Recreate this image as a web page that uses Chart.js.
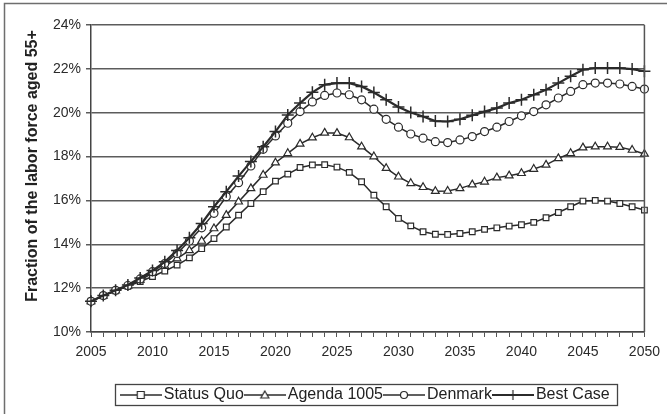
<!DOCTYPE html>
<html>
<head>
<meta charset="utf-8">
<script src="https://cdn.jsdelivr.net/npm/chart.js@4"></script>
<style>
  html, body { margin: 0; padding: 0; background: #ffffff; }
  #wrap { width: 667px; height: 414px; }
</style>
</head>
<body>
<div id="wrap"><canvas id="c" width="667" height="414"></canvas></div>
<script>
const years = [2005,2006,2007,2008,2009,2010,2011,2012,2013,2014,2015,2016,2017,2018,2019,2020,2021,2022,2023,2024,2025,2026,2027,2028,2029,2030,2031,2032,2033,2034,2035,2036,2037,2038,2039,2040,2041,2042,2043,2044,2045,2046,2047,2048,2049,2050];

const statusQuo = [11.40,11.65,11.88,12.08,12.30,12.53,12.78,13.05,13.38,13.80,14.26,14.79,15.33,15.86,16.40,16.88,17.20,17.50,17.62,17.63,17.52,17.28,16.85,16.24,15.71,15.18,14.84,14.57,14.46,14.45,14.49,14.57,14.68,14.75,14.83,14.89,15.00,15.21,15.45,15.71,15.97,16.00,15.97,15.86,15.71,15.56];

const agenda1005 = [11.40,11.65,11.88,12.10,12.38,12.68,13.00,13.35,13.72,14.15,14.72,15.33,15.94,16.55,17.16,17.72,18.15,18.58,18.86,19.08,19.07,18.87,18.45,18.00,17.47,17.08,16.78,16.60,16.42,16.43,16.55,16.72,16.85,17.04,17.13,17.24,17.43,17.62,17.92,18.15,18.41,18.45,18.45,18.43,18.30,18.12];

const denmark = [11.40,11.66,11.90,12.12,12.42,12.75,13.12,13.58,14.15,14.75,15.41,16.17,16.81,17.57,18.33,18.94,19.52,20.05,20.49,20.79,20.90,20.82,20.59,20.16,19.70,19.34,19.03,18.84,18.68,18.64,18.76,18.91,19.14,19.34,19.60,19.86,20.05,20.36,20.67,20.97,21.28,21.35,21.35,21.31,21.20,21.08];

const bestCase = [11.40,11.66,11.90,12.14,12.46,12.80,13.20,13.72,14.30,14.95,15.71,16.40,17.11,17.77,18.45,19.14,19.90,20.44,20.93,21.28,21.35,21.35,21.20,20.92,20.59,20.26,20.01,19.83,19.62,19.60,19.70,19.88,20.05,20.21,20.44,20.59,20.82,21.05,21.35,21.66,21.96,22.04,22.04,22.04,21.99,21.89];

const seriesNames = ['Status Quo', 'Agenda 1005', 'Denmark', 'Best Case'];
const yTicks = [10, 12, 14, 16, 18, 20, 22, 24];
const yTitle = 'Fraction of the labor force aged 55+';

const INK = '#2b2b2b';
const FONT = "'Liberation Sans', Arial, sans-serif";

function drawMarker(ctx, style, x, y) {
  ctx.beginPath();
  if (style === 'rect') {
    ctx.rect(x - 3.5, y - 3.5, 7, 7);
    ctx.fill(); ctx.stroke();
  } else if (style === 'triangle') {
    ctx.moveTo(x, y - 4); ctx.lineTo(x + 4, y + 3); ctx.lineTo(x - 4, y + 3); ctx.closePath();
    ctx.fill(); ctx.stroke();
  } else if (style === 'circle') {
    ctx.arc(x, y, 3.5, 0, Math.PI * 2);
    ctx.fill(); ctx.stroke();
  } else {
    ctx.moveTo(x - 5, y); ctx.lineTo(x + 5, y);
    ctx.moveTo(x, y - 5); ctx.lineTo(x, y + 5);
    ctx.stroke();
  }
}

function legendIcon(style, lw) {
  const c = document.createElement('canvas');
  c.width = 42; c.height = 14;
  const ctx = c.getContext('2d');
  ctx.strokeStyle = INK; ctx.fillStyle = '#fff'; ctx.lineWidth = lw;
  ctx.beginPath(); ctx.moveTo(0, 7); ctx.lineTo(42, 7); ctx.stroke();
  ctx.lineWidth = 1.2;
  drawMarker(ctx, style, 21, 7);
  return c;
}

const styles = ['rect', 'triangle', 'circle', 'cross'];
const lineWidths = [1.5, 1.5, 1.5, 2.2];
const values = [statusQuo, agenda1005, denmark, bestCase];
const radii = [4, 4.5, 4, 6];
const icons = styles.map((s, i) => legendIcon(s, lineWidths[i]));

const datasets = seriesNames.map((name, i) => ({
  label: name,
  data: values[i],
  borderColor: INK,
  borderWidth: lineWidths[i],
  pointStyle: styles[i],
  pointRadius: radii[i],
  pointBackgroundColor: '#ffffff',
  pointBorderColor: INK,
  pointBorderWidth: i === 3 ? 1.5 : 1.2,
  tension: 0,
  fill: false,
  order: 3 - i
}));

const framePlugin = {
  id: 'frame',
  beforeDraw(chart) {
    const ctx = chart.ctx;
    ctx.save();
    ctx.fillStyle = '#ffffff';
    ctx.fillRect(0, 0, chart.width, chart.height);
    ctx.strokeStyle = '#6e6e6e';
    ctx.lineWidth = 1.5;
    ctx.strokeRect(4.5, 3.5, 720, 500);
    ctx.restore();
  },
  afterDraw(chart) {
    const ctx = chart.ctx;
    const a = chart.chartArea;
    ctx.save();
    ctx.strokeStyle = '#555';
    ctx.lineWidth = 1.5;
    ctx.beginPath();
    ctx.moveTo(a.right, a.top);
    ctx.lineTo(a.right, a.bottom);
    ctx.stroke();
    ctx.translate(33, 166);
    ctx.rotate(-Math.PI / 2);
    ctx.fillStyle = '#222';
    ctx.font = "bold 16px " + FONT;
    ctx.textAlign = 'center';
    ctx.textBaseline = 'middle';
    ctx.fillText(yTitle, 0, 0);
    ctx.restore();
    const hb = chart.legend && chart.legend.legendHitBoxes;
    if (hb && hb.length) {
      let l = Infinity, r = -Infinity, t = Infinity, b = -Infinity;
      hb.forEach(h => { l = Math.min(l, h.left); r = Math.max(r, h.left + h.width); t = Math.min(t, h.top); b = Math.max(b, h.top + h.height); });
      ctx.save();
      ctx.strokeStyle = '#444';
      ctx.lineWidth = 1.3;
      ctx.strokeRect(Math.round(l - 11) + 0.5, Math.round(t - 3) + 0.5, Math.round(r - l + 18), Math.round(b - t + 5));
      ctx.restore();
    }
  }
};

new Chart(document.getElementById('c'), {
  type: 'line',
  data: { labels: years.map(String), datasets },
  options: {
    responsive: false,
    animation: false,
    devicePixelRatio: 1,
    layout: { padding: { left: 0, right: 21, top: 25, bottom: 1 } },
    plugins: {
      tooltip: { enabled: false },
      legend: {
        display: true,
        position: 'bottom',
        align: 'center',
        fullSize: false,
        labels: {
          usePointStyle: true,
          pointStyleWidth: 30,
          boxHeight: 14,
          padding: 6,
          color: '#222',
          font: { family: FONT, size: 16 },
          generateLabels: (chart) => seriesNames.map((n, i) => ({
            text: n,
            pointStyle: icons[i],
            fillStyle: '#fff',
            strokeStyle: INK,
            lineWidth: 0,
            hidden: false,
            datasetIndex: i,
            fontColor: '#222'
          }))
        }
      }
    },
    scales: {
      x: {
        type: 'category',
        offset: false,
        afterFit: (s) => { s.height = 49; },
        grid: { display: true, drawOnChartArea: false, drawTicks: true, tickLength: 5, color: '#555', lineWidth: 1 },
        border: { display: true, color: '#444', width: 1.5 },
        ticks: {
          autoSkip: false,
          maxRotation: 0,
          minRotation: 0,
          padding: 7,
          color: '#2a2a2a',
          font: { family: FONT, size: 14 },
          callback: function (value, index) {
            const y = years[index];
            return (y % 5 === 0) ? String(y) : '';
          }
        }
      },
      y: {
        min: yTicks[0],
        max: yTicks[yTicks.length - 1],
        afterFit: (s) => { s.width = 91; },
        afterBuildTicks: (s) => { s.ticks = yTicks.map(v => ({ value: v })); },
        grid: { display: true, drawOnChartArea: true, drawTicks: true, tickLength: 5, color: '#5c5c5c', lineWidth: 1.5 },
        border: { display: true, color: '#444', width: 1.5 },
        ticks: {
          padding: 5,
          color: '#2a2a2a',
          font: { family: FONT, size: 14 },
          callback: (v) => v + '%'
        }
      }
    }
  },
  plugins: [framePlugin]
});
</script>
</body>
</html>
